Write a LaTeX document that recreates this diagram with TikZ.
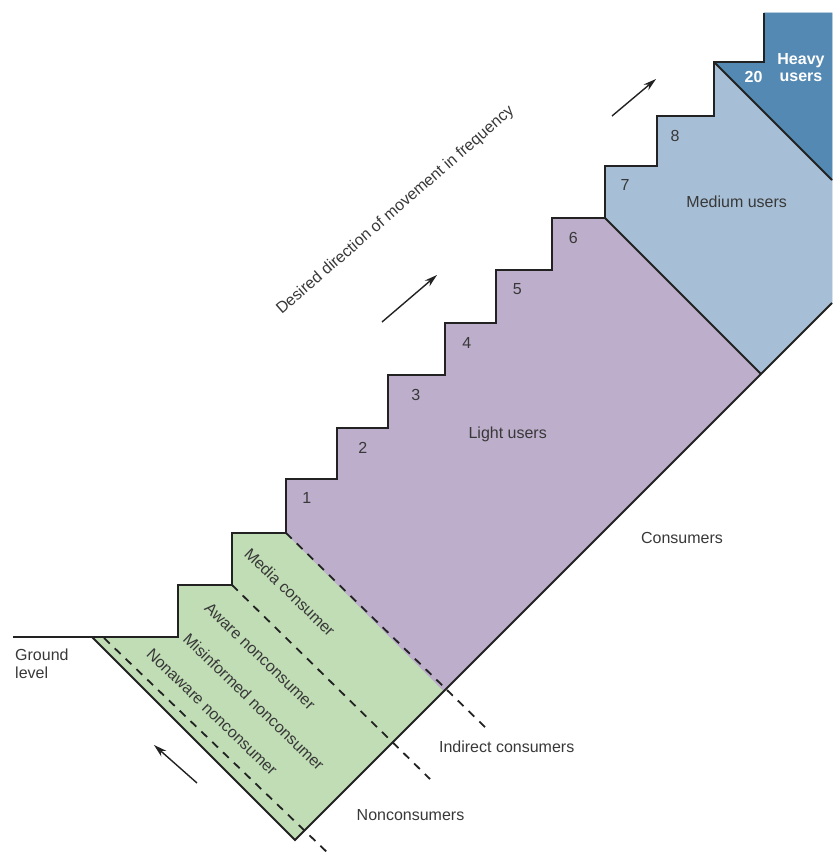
\documentclass[tikz,border=0pt]{standalone}
\usepackage{fontspec}
\setmainfont{Liberation Sans}
\usetikzlibrary{arrows.meta}
\definecolor{cNon}{HTML}{C0DDB5}
\definecolor{cLight}{HTML}{BDAECB}
\definecolor{cMed}{HTML}{A7BFD6}
\definecolor{cHeavy}{HTML}{5389B2}
\definecolor{cInk}{HTML}{222222}
\definecolor{cText}{HTML}{383838}
\tikzset{
  >=Stealth,
  zone/.style={fill=#1,draw=#1,line width=.6pt},
  edge/.style={draw=cInk,line width=1.8pt,line join=miter},
  dline/.style={draw=cInk,line width=1.8pt,dash pattern=on 8pt off 7pt},
  txt/.style={font=\fontsize{16}{17.5}\selectfont,text=cText,inner sep=0pt},
  wtxt/.style={txt,text=white,font=\fontsize{16}{17.5}\selectfont\bfseries},
  ar/.style={-{Stealth[length=13pt,width=7.5pt]},line width=1.4pt,cInk},
}

\begin{document}
\begin{tikzpicture}[x=1pt,y=-1pt]
\useasboundingbox (0,0) rectangle (832,856);
% fills
\fill[zone=cNon] (92,637) -- (178,637) -- (178,585) -- (232,585) -- (232,533)
  -- (286,533) -- (444,691) -- (295,840) -- cycle;
\fill[zone=cLight] (286,533) -- (286,479) -- (337,479) -- (337,428) -- (388,428)
  -- (388,375) -- (445,375) -- (445,323) -- (496,323) -- (496,270) -- (552,270)
  -- (552,218) -- (605,218) -- (761,374) -- (444,691) -- cycle;
\fill[zone=cMed] (605,218) -- (605,166) -- (657,166) -- (657,116) -- (714,116)
  -- (714,62) -- (832,180) -- (832,303) -- (761,374) -- cycle;
\fill[zone=cHeavy] (714,62) -- (764,62) -- (764,13) -- (832,13) -- (832,180) -- cycle;
% outline of the stairs
\draw[edge] (13,637) -- (178,637) -- (178,585) -- (232,585) -- (232,533) -- (286,533)
  -- (286,479) -- (337,479) -- (337,428) -- (388,428) -- (388,375) -- (445,375)
  -- (445,323) -- (496,323) -- (496,270) -- (552,270) -- (552,218) -- (605,218)
  -- (605,166) -- (657,166) -- (657,116) -- (714,116) -- (714,62) -- (764,62) -- (764,13);
\draw[edge] (92,637) -- (295,840) -- (832,303);
\draw[edge] (605,218) -- (761,374);
\draw[edge] (714,62) -- (832,180);
\draw[dline] (286,533) -- (488,730);
\draw[dline] (232,585) -- (430,779);
\draw[dline] (104,638) -- (331,856);

% step numbers
\node[txt] (s1) at (306.7,498.3) {1};
\node[txt] (s2) at (362.7,448.3) {2};
\node[txt] (s3) at (415.7,395) {3};
\node[txt] (s4) at (466.7,343.3) {4};
\node[txt] (s5) at (517.3,289) {5};
\node[txt] (s6) at (573.3,238.3) {6};
\node[txt] (s7) at (625,185) {7};
\node[txt] (s8) at (675,136) {8};
\node[wtxt] (s20) at (753.5,76.5) {20};

% groups
\node[txt] (light) at (507.7,434) {Light users};
\node[txt] (medium) at (736.7,201.7) {Medium users};
\node[wtxt,align=center] (heavy) at (801,67.5) {Heavy\\users};
\node[txt,rotate=-44] (media) at (290,592) {Media consumer};
\node[txt,rotate=-44] (aware) at (260,656) {Aware nonconsumer};
\node[txt,rotate=-44] (misinf) at (254,702) {Misinformed nonconsumer};
\node[txt,rotate=-44] (nonaw) at (212,712) {Nonaware nonconsumer};

% side labels
\node[txt,align=left,anchor=north west] (ground) at (15,649) {Ground\\level};
\node[txt] (cons) at (682,538) {Consumers};
\node[txt] (indir) at (506.7,747) {Indirect consumers};
\node[txt] (noncons) at (410.5,815.5) {Nonconsumers};
\node[txt,rotate=41] (desired) at (395.5,210.5) {Desired direction of movement in frequency};

% arrows
\coordinate (up1a) at (382,322);
\coordinate (up1b) at (437,275);
\coordinate (up2a) at (612,116);
\coordinate (up2b) at (656,79);
\coordinate (dnA) at (197,783);
\coordinate (dnB) at (154,745);
\draw[ar] (up1a) -- (up1b);
\draw[ar] (up2a) -- (up2b);
\draw[ar] (dnA) -- (dnB);
\end{tikzpicture}
\end{document}
